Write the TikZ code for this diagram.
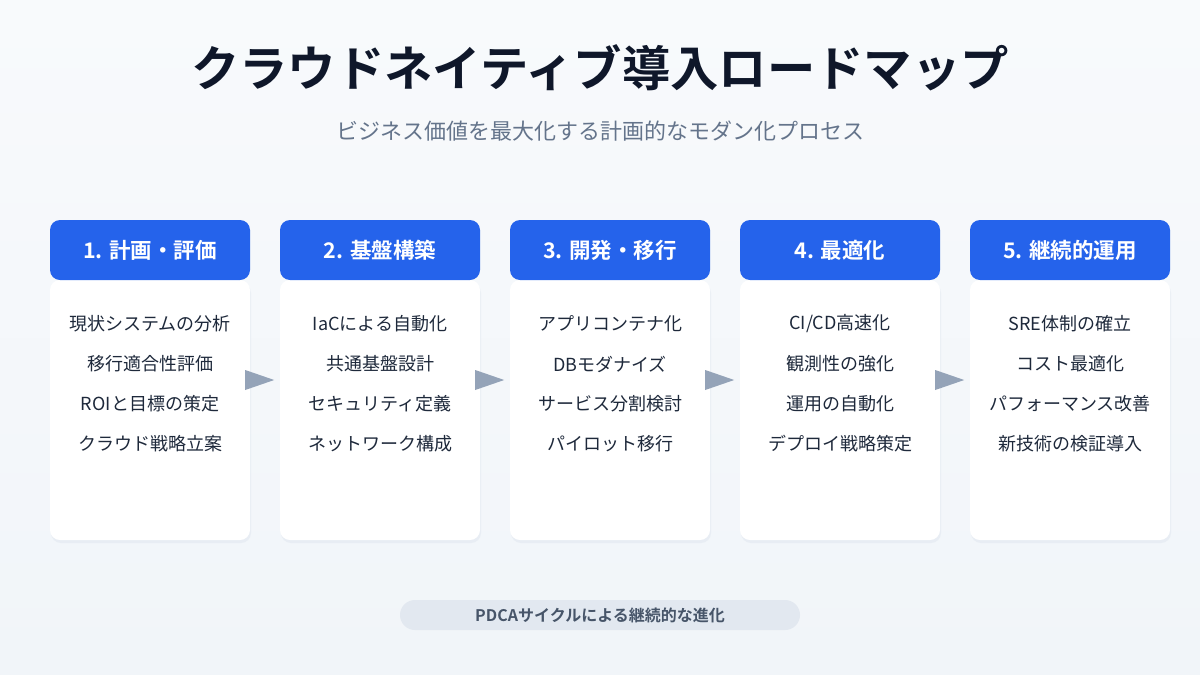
\documentclass[tikz,border=0pt]{standalone}
\usepackage{fontspec}
\setmainfont{Noto Sans CJK JP}
\newfontfamily\jpbold{Noto Sans CJK JP Bold}
\usetikzlibrary{calc}
\definecolor{bgtop}{HTML}{F8FAFC}
\definecolor{bgbot}{HTML}{F1F5F9}
\definecolor{titlec}{HTML}{0F172A}
\definecolor{subc}{HTML}{64748B}
\definecolor{headc}{HTML}{2563EB}
\definecolor{itemc}{HTML}{1E293B}
\definecolor{arrowc}{HTML}{94A3B8}
\definecolor{pillc}{HTML}{E2E8F0}
\definecolor{pilltext}{HTML}{475569}
\definecolor{shadowc}{HTML}{E2E8F0}
\tikzset{
  headbox/.style={fill=headc, rounded corners=10pt, minimum width=200pt, minimum height=60pt, inner sep=0pt, text=white, font=\jpbold\fontsize{21.5}{26}\selectfont},
  bodybox/.style={fill=white, rounded corners=10pt, minimum width=200pt, minimum height=260pt, inner sep=0pt},
  item/.style={text=itemc, font=\fontsize{18}{21}\selectfont, inner sep=0pt},
  arrowtri/.style={fill=arrowc},
}
\begin{document}
\begin{tikzpicture}[x=1pt,y=-1pt]
\useasboundingbox (0,0) rectangle (1200,675);
\shade[top color=bgtop, bottom color=bgbot] (0,0) rectangle (1200,675);
\node[text=titlec, font=\jpbold\fontsize{48.3}{58}\selectfont] (title) at (600,68) {クラウドネイティブ導入ロードマップ};
\node[text=subc, font=\fontsize{22}{27}\selectfont] (sub) at (600,131) {ビジネス価値を最大化する計画的なモダン化プロセス};
\foreach \i/\x/\head/\a/\b/\c/\d in {
  1/150/{1. 計画・評価}/{現状システムの分析}/{移行適合性評価}/{ROIと目標の策定}/{クラウド戦略立案},
  2/380/{2. 基盤構築}/{IaCによる自動化}/{共通基盤設計}/{セキュリティ定義}/{ネットワーク構成},
  3/610/{3. 開発・移行}/{アプリコンテナ化}/{DBモダナイズ}/{サービス分割検討}/{パイロット移行},
  4/840/{4. 最適化}/{CI/CD高速化}/{観測性の強化}/{運用の自動化}/{デプロイ戦略策定},
  5/1070/{5. 継続的運用}/{SRE体制の確立}/{コスト最適化}/{パフォーマンス改善}/{新技術の検証導入}}{
  \fill[shadowc, rounded corners=10pt, opacity=0.6] (\x-99,283) rectangle (\x+101,543);
  \node[bodybox] (b\i) at (\x,410) {};
  \node[headbox] (h\i) at (\x,250) {\head};
  \node[item] (i\i a) at (\x,324) {\a};
  \node[item] (i\i b) at (\x,364) {\b};
  \node[item] (i\i c) at (\x,404) {\c};
  \node[item] (i\i d) at (\x,444) {\d};
}
\foreach \i/\j in {1/2,2/3,3/4,4/5}{
  \coordinate (t\i) at ($(b\i.east)+(-5,-30)$);
  \fill[arrowtri] ($(t\i)+(0,-10)$) -- ($(t\i)+(29,0)$) -- ($(t\i)+(0,10)$) -- cycle;
}
\node[fill=pillc, rounded corners=15pt, minimum width=400pt, minimum height=30pt, inner sep=0pt, text=pilltext, font=\jpbold\fontsize{16}{19}\selectfont] (pill) at (600,615) {PDCAサイクルによる継続的な進化};
\end{tikzpicture}
\end{document}
